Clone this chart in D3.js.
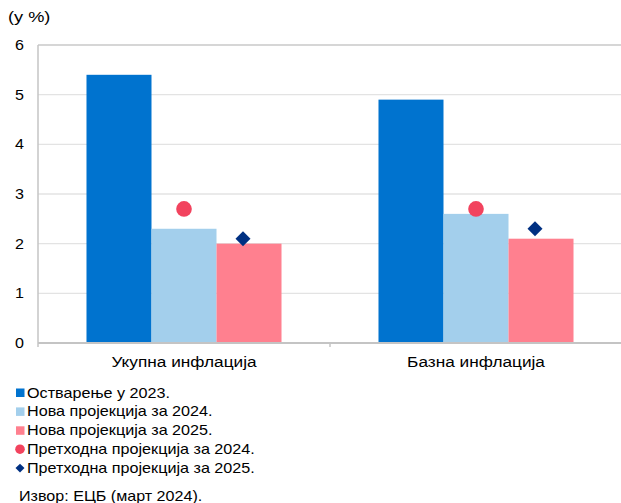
<!DOCTYPE html>
<html><head><meta charset="utf-8">
<script src="https://cdn.jsdelivr.net/npm/d3@7"></script>
<style>
body{margin:0;background:#fff;}
svg{display:block;font-family:"Liberation Sans",Arial,sans-serif;}
</style></head>
<body><svg id="c" width="621" height="503"></svg>
<script>
const categories = ["Укупна инфлација", "Базна инфлација"];
const barSeries = ["Остварење у 2023.", "Нова пројекција за 2024.", "Нова пројекција за 2025."];
const actual2023 = [5.4, 4.9];
const newProj2024 = [2.3, 2.6];
const newProj2025 = [2.0, 2.1];
const prevProj2024 = [2.7, 2.7];
const prevProj2025 = [2.1, 2.3];
const yTicks = [0, 1, 2, 3, 4, 5, 6];
const legendLabels = ["Остварење у 2023.", "Нова пројекција за 2024.", "Нова пројекција за 2025.", "Претходна пројекција за 2024.", "Претходна пројекција за 2025."];
const unitLabel = "(у %)";
const sourceText = "Извор: ЕЦБ (март 2024).";

const barColors = ["#0073CF", "#A3CFEC", "#FF808F"];
const dotColor = "#F2435E", diamondColor = "#003082";

const svg = d3.select("#c");
const L = 38, R = 622, T = 45, B = 343;
const y = d3.scaleLinear().domain([0, 6]).range([B, T]);
const x0 = d3.scaleBand().domain(categories).range([L, R]);
const x1 = d3.scaleBand().domain(barSeries).range([0, x0.bandwidth()]).paddingOuter(0.746);

function stext(g, x, yy, t, sx, anchor) {
  return g.append("text")
    .attr("transform", `translate(${x},${yy}) scale(${sx},1)`)
    .attr("font-size", 14).attr("fill", "#000")
    .attr("text-anchor", anchor || "start").text(t);
}

// gridlines
svg.append("g").selectAll("line").data(yTicks.filter(d => d > 0)).join("line")
  .attr("x1", L).attr("x2", R).attr("y1", d => y(d)).attr("y2", d => y(d))
  .attr("stroke", d => d === 6 ? "#c9c9c9" : "#e3e3e3").attr("stroke-width", 1.3);

// y axis labels
const ya = svg.append("g").attr("transform", `translate(${L},0)`)
  .call(d3.axisLeft(y).tickValues(yTicks).tickSize(0).tickPadding(13).tickFormat(d3.format("d")));
ya.select(".domain").remove();
ya.selectAll("text").attr("font-size", 14).attr("fill", "#000")
  .attr("font-family", "Liberation Sans, Arial, sans-serif")
  .attr("transform", "scale(1.15,1)").attr("x", -13 / 1.15 - 1);

// bars
const seriesVals = [actual2023, newProj2024, newProj2025];
categories.forEach((c, ci) => {
  barSeries.forEach((s, si) => {
    svg.append("rect")
      .attr("x", x0(c) + x1(s)).attr("width", x1.bandwidth())
      .attr("y", y(seriesVals[si][ci])).attr("height", y(0) - y(seriesVals[si][ci]))
      .attr("fill", barColors[si]);
  });
  svg.append("circle")
    .attr("cx", x0(c) + x1(barSeries[1]) + x1.bandwidth() / 2)
    .attr("cy", y(prevProj2024[ci])).attr("r", 7.8).attr("fill", dotColor);
  svg.append("path")
    .attr("d", d3.symbol().type(d3.symbolSquare).size(112)())
    .attr("transform", `translate(${x0(c) + x1(barSeries[2]) + x1.bandwidth() / 2 - 6},${y(prevProj2025[ci])}) rotate(45)`)
    .attr("fill", diamondColor);
});

// axes lines
svg.append("line").attr("x1", L).attr("x2", L).attr("y1", T).attr("y2", B + 4).attr("stroke", "#c4c4c4").attr("stroke-width", 1.5);
svg.append("line").attr("x1", L).attr("x2", R).attr("y1", B).attr("y2", B).attr("stroke", "#c4c4c4").attr("stroke-width", 2);
svg.append("line").attr("x1", x0(categories[1])).attr("x2", x0(categories[1])).attr("y1", B).attr("y2", B + 4).attr("stroke", "#c4c4c4").attr("stroke-width", 1.5);

// category labels
categories.forEach(c => stext(svg, x0(c) + x0.bandwidth() / 2, 367, c, 1.23, "middle"));

// unit label
stext(svg, 8, 22, unitLabel, 1.3);

// legend
const lg = svg.append("g");
legendLabels.forEach((t, i) => {
  const cy = 392.5 + i * 18.9;
  if (i < 3) {
    lg.append("rect").attr("x", 16).attr("y", cy - 4).attr("width", 8.5).attr("height", 8.5).attr("fill", barColors[i]);
  } else if (i === 3) {
    lg.append("circle").attr("cx", 20).attr("cy", cy).attr("r", 4.8).attr("fill", dotColor);
  } else {
    lg.append("path").attr("d", d3.symbol().type(d3.symbolSquare).size(40)())
      .attr("transform", `translate(20,${cy}) rotate(45)`).attr("fill", diamondColor);
  }
  stext(lg, 27, cy + 5, t, 1.155);
});

stext(svg, 19, 501, sourceText, 1.15);
</script></body></html>
